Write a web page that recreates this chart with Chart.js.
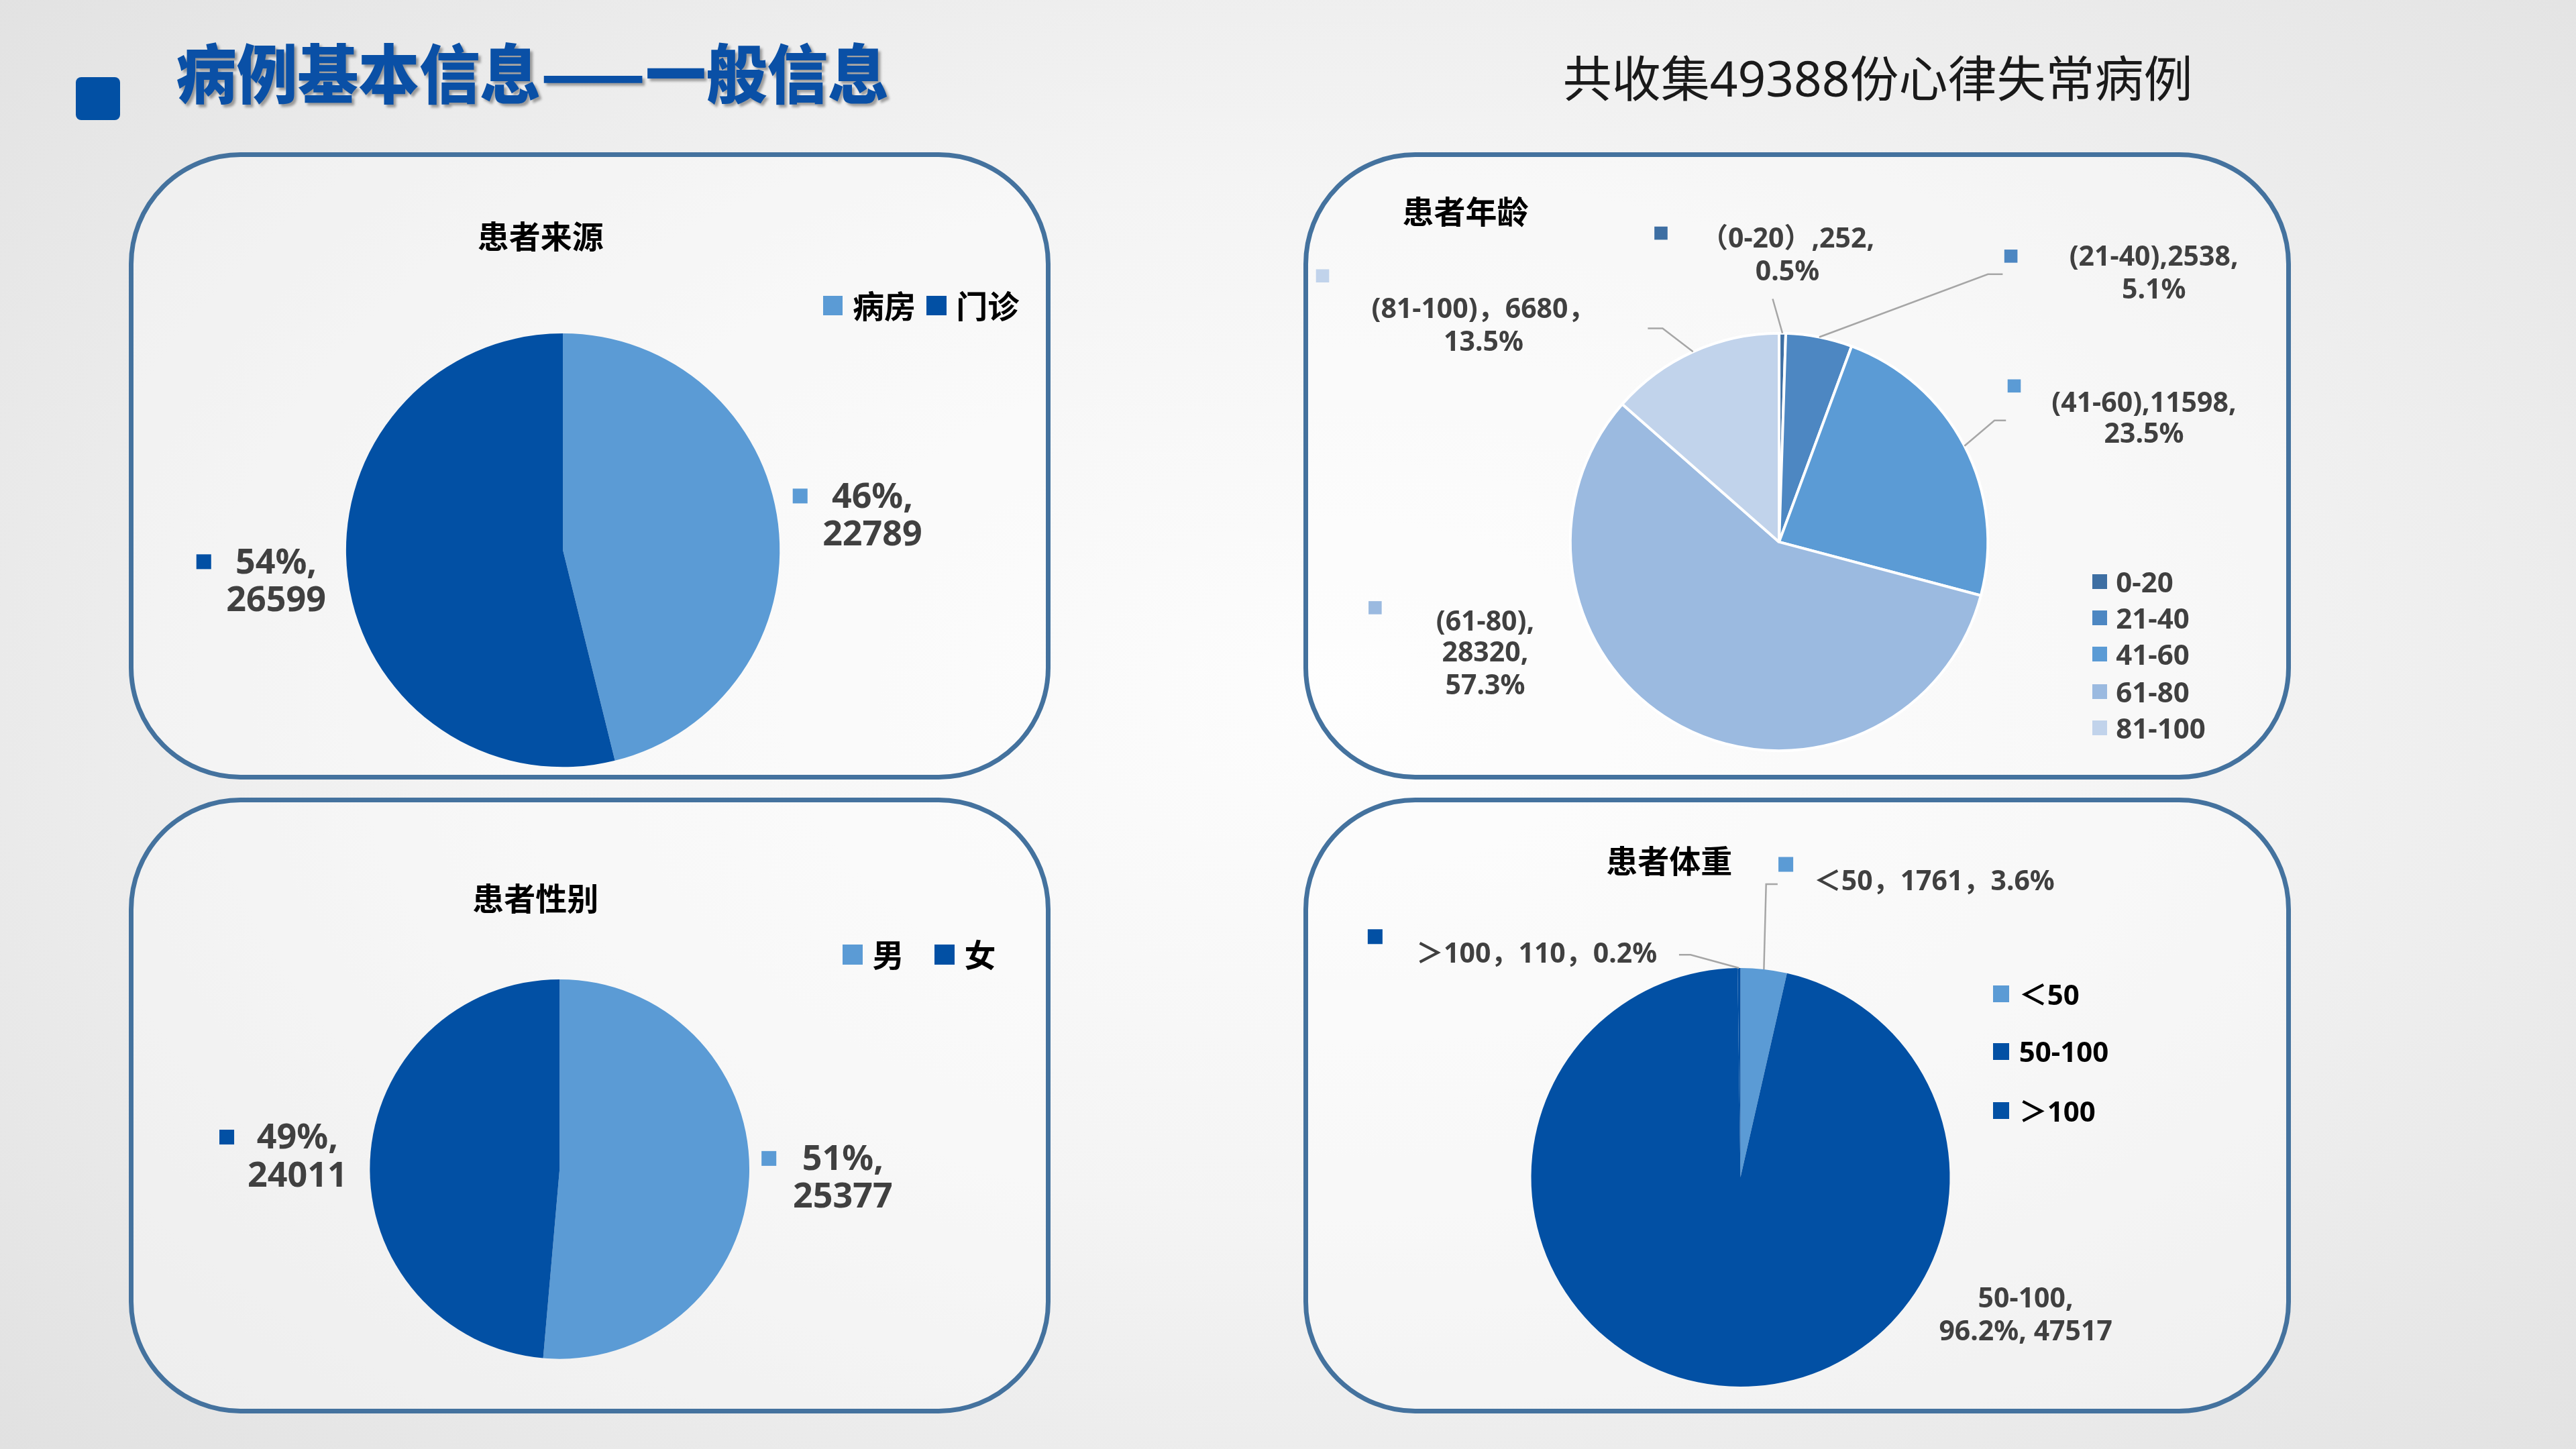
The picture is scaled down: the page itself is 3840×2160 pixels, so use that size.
<!DOCTYPE html>
<html><head><meta charset="utf-8">
<script src="https://cdn.jsdelivr.net/npm/chart.js@4.4.1/dist/chart.umd.min.js"></script>
<style>
html,body{margin:0;padding:0;}
#page{position:relative;width:3840px;height:2160px;overflow:hidden;
background:radial-gradient(ellipse 72% 80% at 52% 48%, #fdfdfd 0%, #f4f4f4 45%, #e0e0e0 100%);
font-family:'Noto Sans','Noto Sans CJK SC',sans-serif;}
.abs{position:absolute;white-space:pre;line-height:1;}
canvas{position:absolute;}
</style></head><body><div id="page"></div>
<script>
// ---------- data ----------
const totalCases = 49388;
const sourceLabels = ['病房', '门诊'];
const sourceValues = [22789, 26599];
const genderLabels = ['男', '女'];
const genderValues = [25377, 24011];
const ageLabels = ['0-20', '21-40', '41-60', '61-80', '81-100'];
const ageValues = [252, 2538, 11598, 28320, 6680];
const weightLabels = ['＜50', '50-100', '＞100'];
const weightValues = [1761, 47517, 110];

// label text templates ({c}=category, {v}=value, {p}=percent)
const sourceLabelFormats = [['{p}%,', '{v}'], ['{p}%,', '{v}']];
const genderLabelFormats = [['{p}%,', '{v}'], ['{p}%,', '{v}']];
const ageLabelFormats = [
  ['（{c}）,{v},', '{p}%'],
  ['({c}),{v},', '{p}%'],
  ['({c}),{v},', '{p}%'],
  ['({c}),', '{v},', '{p}%'],
  ['({c})，{v}，', '{p}%']
];
const weightLabelFormats = [['{c}，{v}，{p}%'], ['{c},', '{p}%, {v}'], ['{c}，{v}，{p}%']];

// ---------- helpers ----------
const S = 3840 / 1568;
const D = v => (v * S) + 'px';
const page = document.getElementById('page');

function fmt(tpls, cats, vals, dec) {
  return tpls.map((lines, i) => lines.map(t => t
    .replace('{c}', cats[i]).replace('{v}', vals[i])
    .replace('{p}', (vals[i] / totalCases * 100).toFixed(dec))));
}

function addText(text, x, y, o) {
  const d = document.createElement('div');
  d.className = 'abs';
  d.textContent = text;
  d.style.left = D(x); d.style.top = D(y);
  d.style.transformOrigin = '0 50%';
  d.style.transform = 'translate(' + (o.align === 'left' ? '0' : '-50%') + ',-50%)' + (o.sx ? ' scaleX(' + o.sx + ')' : '');
  d.style.fontSize = o.size + 'px';
  d.style.fontWeight = o.weight || 'normal';
  d.style.color = o.color || '#000';
  if (o.family) d.style.fontFamily = o.family;
  if (o.shadow) d.style.textShadow = o.shadow;
  page.appendChild(d);
  return d;
}
function addBox(x, y, w, h, css) {
  const d = document.createElement('div');
  d.className = 'abs';
  d.style.left = D(x); d.style.top = D(y); d.style.width = D(w); d.style.height = D(h);
  Object.assign(d.style, css);
  page.appendChild(d);
  return d;
}

// ---------- page header ----------
addBox(46, 47, 27, 26, {background: '#0250a4', borderRadius: '8px'});
addText('病例基本信息——一般信息', 107, 43, {align: 'left', size: 96, weight: 900, color: '#0a50a6', sx: 0.945,
  family: "'Noto Sans CJK SC',sans-serif", shadow: '4px 4px 4px rgba(0,0,0,0.35)'});
addText('共收集49388份心律失常病例', 1143, 47, {size: 73, color: '#1a1a1a'});

// ---------- panels ----------
const panels = [[80, 94, 558, 379], [795, 94, 598, 379], [80, 487, 558, 372], [795, 487, 598, 372]];
panels.forEach(p => addBox(p[0] - 1.5, p[1] - 1.5, p[2] + 3, p[3] + 3, {
  boxSizing: 'border-box', border: '7px solid #44729e', borderRadius: D(68),
  background: 'rgba(255,255,255,0.35)'}));

// ---------- label plugin ----------
function labelPlugin(spec) {
  return {
    id: 'sliceLabels',
    afterDraw(chart) {
      const ctx = chart.ctx;
      const meta = chart.getDatasetMeta(0);
      const colors = chart.data.datasets[0].backgroundColor;
      const P = (x, y) => [(x - spec.origin[0]) * S, (y - spec.origin[1]) * S];
      spec.items.forEach((it, i) => {
        const arc = meta.data[i];
        if (it.leader) {
          const mid = (arc.startAngle + arc.endAngle) / 2;
          const ex = arc.x + Math.cos(mid) * arc.outerRadius;
          const ey = arc.y + Math.sin(mid) * arc.outerRadius;
          ctx.save();
          ctx.strokeStyle = '#a6a6a6'; ctx.lineWidth = 2.5;
          ctx.beginPath();
          it.leader.forEach((p, k) => { const q = P(p[0], p[1]); k ? ctx.lineTo(q[0], q[1]) : ctx.moveTo(q[0], q[1]); });
          ctx.lineTo(ex, ey); ctx.stroke(); ctx.restore();
        }
        if (it.sq) {
          const q = P(it.sq[0], it.sq[1]); const s = spec.sq * S;
          ctx.fillStyle = colors[i];
          ctx.fillRect(q[0] - s / 2, q[1] - s / 2, s, s);
        }
        ctx.save();
        ctx.font = spec.font;
        ctx.fillStyle = '#404040';
        ctx.textAlign = it.align || 'center';
        ctx.textBaseline = 'middle';
        spec.lines[i].forEach((t, k) => { const q = P(it.x, it.ys[k]); ctx.fillText(t, q[0], q[1]); });
        ctx.restore();
      });
    }
  };
}

function makePie(panel, pie, labels, values, colors, border, spec) {
  const c = document.createElement('canvas');
  const W = Math.round(panel[2] * S), H = Math.round(panel[3] * S);
  c.width = W; c.height = H;
  c.style.left = D(panel[0]); c.style.top = D(panel[1]);
  c.style.width = W + 'px'; c.style.height = H + 'px';
  page.appendChild(c);
  const [cx, cy, r] = pie;
  spec.origin = [panel[0], panel[1]];
  new Chart(c, {
    type: 'pie',
    data: {labels, datasets: [{data: values, backgroundColor: colors,
      borderColor: '#ffffff', borderWidth: border}]},
    options: {
      responsive: false, animation: false, devicePixelRatio: 1,
      layout: {padding: {
        left: (cx - r - panel[0]) * S, top: (cy - r - panel[1]) * S,
        right: (panel[0] + panel[2] - cx - r) * S, bottom: (panel[1] + panel[3] - cy - r) * S}},
      plugins: {legend: {display: false}, tooltip: {enabled: false}, title: {display: false}}
    },
    plugins: [labelPlugin(spec)]
  });
}

const LIGHT = '#5b9bd5', DARK = '#0250a4';
const sourceColors = [LIGHT, DARK];
const genderColors = [LIGHT, DARK];
const ageColors = ['#3e6fa3', '#4d87c2', '#5b9bd5', '#9bbae0', '#c1d3eb'];
const weightColors = [LIGHT, DARK, DARK];

const BIG = "bold 52px 'Noto Sans','Noto Sans CJK SC',sans-serif";
const SMALL = "bold 41px 'Noto Sans','Noto Sans CJK SC',sans-serif";

// chart 1: source
makePie(panels[0], [342.5, 335, 132], sourceLabels, sourceValues, sourceColors, 0, {
  font: BIG, sq: 9, lines: fmt(sourceLabelFormats, sourceLabels, sourceValues, 0),
  items: [{sq: [487, 302], x: 531, ys: [303, 326]}, {sq: [124, 342], x: 168, ys: [343, 366]}]});
// chart 2: age
makePie(panels[1], [1083, 330, 128], ageLabels, ageValues, ageColors, 4, {
  font: SMALL, sq: 8, lines: fmt(ageLabelFormats, ageLabels, ageValues, 1),
  items: [
    {sq: [1011, 142], x: 1088, ys: [146, 166], leader: [[1079, 182]]},
    {sq: [1224, 156], x: 1311, ys: [157, 177], leader: [[1219, 167], [1210, 167]]},
    {sq: [1226, 235], x: 1305, ys: [246, 265], leader: [[1221, 256], [1214, 256]]},
    {sq: [837, 370], x: 904, ys: [379, 398, 418]},
    {sq: [805, 168], x: 903, ys: [189, 209], leader: [[1003, 200], [1012, 200]]}]});
// chart 3: gender
makePie(panels[2], [340.5, 711.5, 115.5], genderLabels, genderValues, genderColors, 0, {
  font: BIG, sq: 9, lines: fmt(genderLabelFormats, genderLabels, genderValues, 0),
  items: [{sq: [468, 705], x: 513, ys: [706, 729]}, {sq: [138, 692], x: 181, ys: [693, 716]}]});
// chart 4: weight
makePie(panels[3], [1059.5, 716.5, 127.5], weightLabels, weightValues, weightColors, 0, {
  font: SMALL, sq: 9, lines: fmt(weightLabelFormats, weightLabels, weightValues, 1),
  items: [
    {sq: [1087, 526], x: 1104, ys: [537], align: 'left', leader: [[1082, 538], [1075, 538]]},
    {x: 1233, ys: [791, 811]},
    {sq: [837, 570], x: 862, ys: [581], align: 'left', leader: [[1022, 581], [1029, 581]]}]});

// ---------- chart titles ----------
const TF = {size: 47, weight: 'bold', color: '#000', family: "'Noto Sans CJK SC',sans-serif"};
addText('患者来源', 329, 142.5, TF);
addText('患者年龄', 892, 127.5, TF);
addText('患者性别', 326, 545.5, TF);
addText('患者体重', 1016, 522.5, TF);

// ---------- legends ----------
function legendItem(color, sqx, y, sqSize, label, tx, o) {
  addBox(sqx - sqSize / 2, y - sqSize / 2, sqSize, sqSize, {background: color});
  addText(label, tx, y, Object.assign({align: 'left'}, o));
}
const LF = {size: 47, weight: 'bold', color: '#000'};
legendItem(sourceColors[0], 507, 186, 12, sourceLabels[0], 519, LF);
legendItem(sourceColors[1], 570, 186, 12, sourceLabels[1], 582, LF);
legendItem(genderColors[0], 519, 581, 12, genderLabels[0], 531, LF);
legendItem(genderColors[1], 575, 581, 12, genderLabels[1], 587, LF);
const ageLegendY = [354, 376, 398, 421, 443];
ageLabels.forEach((l, i) => legendItem(ageColors[i], 1278, ageLegendY[i], 9, l, 1288,
  {size: 42, weight: 'bold', color: '#404040'}));
const weightLegendY = [605, 640, 676];
weightLabels.forEach((l, i) => legendItem(weightColors[i], 1218, weightLegendY[i], 10, l, 1229,
  {size: 42, weight: 'bold', color: '#000'}));
</script></body></html>
